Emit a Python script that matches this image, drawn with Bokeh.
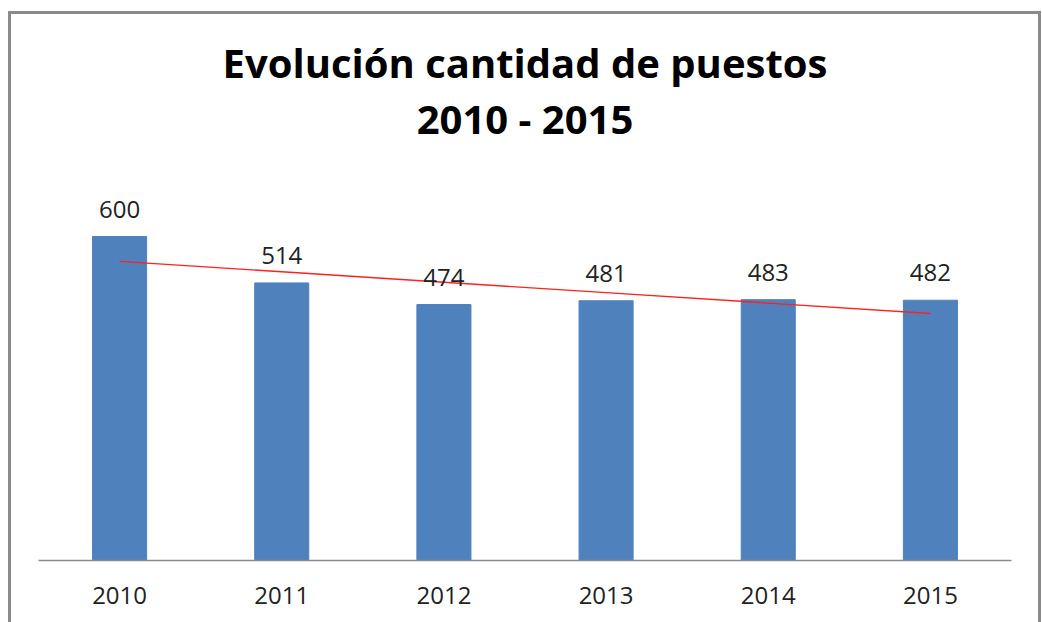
import numpy as np
from bokeh.plotting import figure
from bokeh.models import ColumnDataSource, LabelSet, Title, Range1d
from bokeh.core.properties import value
from bokeh.embed import file_html
from bokeh.resources import INLINE

# ---- data ----
years = ["2010", "2011", "2012", "2013", "2014", "2015"]
puestos = [600, 514, 474, 481, 483, 482]
title_line1 = "Evolución cantidad de puestos"
title_line2 = "2010 - 2015"

# linear trend line (least squares) computed from the data
xi = np.arange(1, len(years) + 1)
slope, intercept = np.polyfit(xi, puestos, 1)
trend = list(slope * xi + intercept)

src = ColumnDataSource(dict(year=years, val=puestos, lab=[str(v) for v in puestos], trend=trend))

FONT = "Open Sans"

p = figure(
    x_range=years,
    y_range=Range1d(0, 700),
    width=1033, height=611,
    min_border_left=27, min_border_right=33, min_border_bottom=65, min_border_top=168,
    output_backend="svg", toolbar_location=None,
    title=None,
)
p.styles = {"border": "3px solid #8a8a8a", "border-bottom": "none",
            "margin-left": "8px", "margin-top": "11px", "overflow": "hidden"}

p.vbar(x="year", top="val", width=1/3, source=src, fill_color="#4F81BD",
       line_color="#4F81BD")
p.line(x="year", y="trend", source=src, line_color="#FF2020", line_width=1.4)

labels = LabelSet(x="year", y="val", text="lab", source=src, text_align="center",
                  text_baseline="alphabetic", y_offset=19, text_font=value(FONT),
                  text_font_size="24px", text_color="#222222")
p.add_layout(labels)

t2 = Title(text=title_line2, align="center", text_font=FONT,
           text_font_style="bold", text_font_size="40px", text_color="#000000", standoff=74)
t1 = Title(text=title_line1, align="center", text_font=FONT,
           text_font_style="bold", text_font_size="40px", text_color="#000000", standoff=-76)
p.add_layout(t2, "above")
p.add_layout(t1, "above")

p.yaxis.visible = False
p.xaxis.axis_line_color = "#8c8c8c"
p.xaxis.axis_line_width = 1.5
p.xaxis.major_tick_line_color = None
p.xaxis.minor_tick_line_color = None
p.xaxis.major_label_text_font = FONT
p.xaxis.major_label_text_font_size = "24px"
p.xaxis.major_label_text_color = "#222222"
p.xaxis.major_label_standoff = 20
p.xgrid.grid_line_color = None
p.ygrid.grid_line_color = None
p.outline_line_color = None
p.x_range.range_padding = 0

open("out.html", "w").write(file_html(p, INLINE))
